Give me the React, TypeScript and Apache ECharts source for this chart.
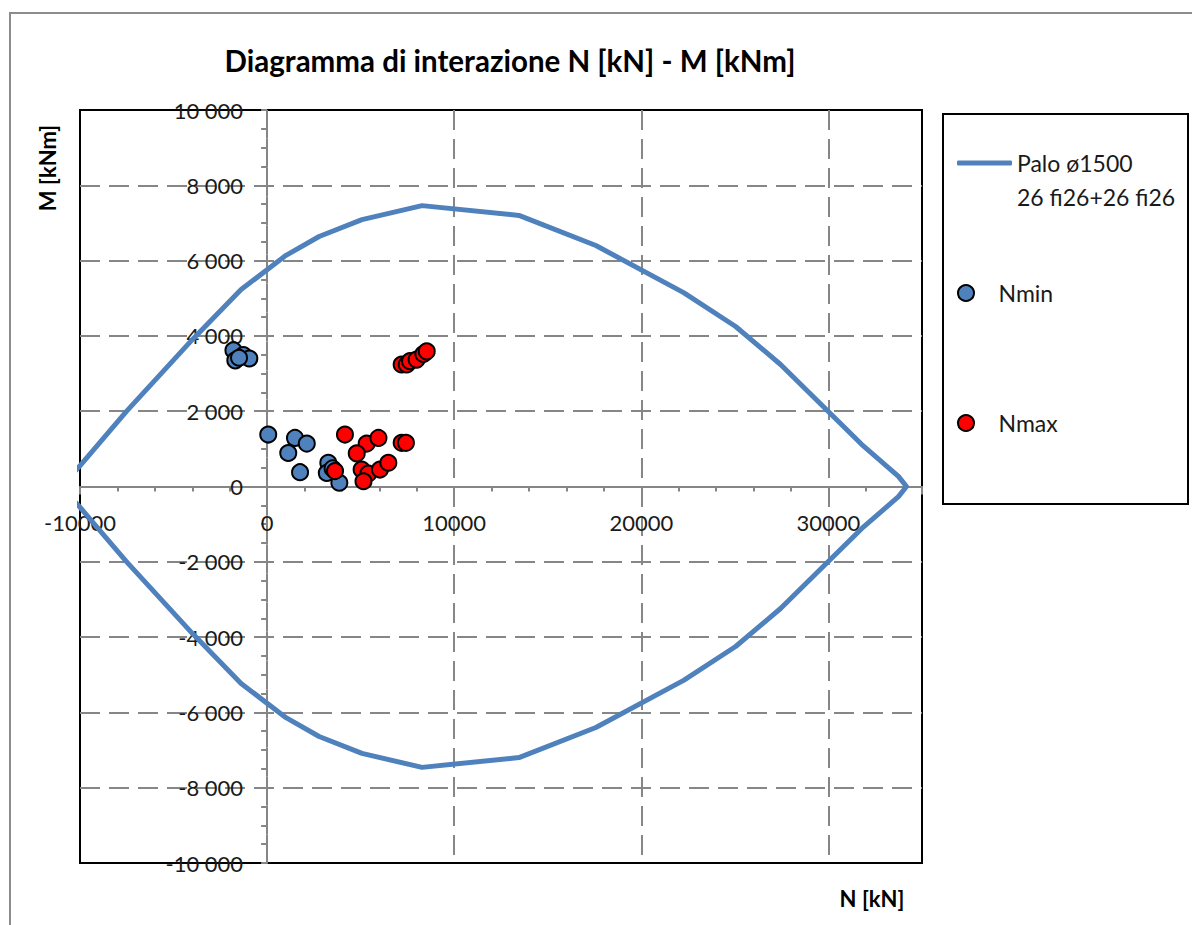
import React, { useEffect, useRef } from "react";
import * as echarts from "echarts";

// Interaction envelope (upper branch; lower branch is its mirror M -> -M)
const envelopeN = [-11000, -10040, -7530, -4000, -1390, 1010, 2780, 5070, 8280, 13460, 17570, 22260, 25040, 27440, 31770, 33740, 34170];
const envelopeMUpper = [0, 530, 1990, 3900, 5230, 6140, 6640, 7090, 7460, 7200, 6400, 5150, 4250, 3240, 1120, 270, 0];

// Nmin load points
const nminN = [-1800, -1700, -1270, -950, -1500, 60, 1490, 2120, 1130, 1760, 3270, 3190, 3860, 3500];
const nminM = [3620, 3350, 3490, 3400, 3420, 1380, 1290, 1140, 890, 380, 630, 360, 100, 480];

// Nmax load points
const nmaxN = [3630, 4160, 5320, 5950, 4790, 5050, 5410, 5150, 6030, 6480, 7190, 7420, 7190, 7460, 7640, 7990, 8350, 8530];
const nmaxM = [410, 1380, 1140, 1290, 880, 450, 345, 140, 450, 630, 1160, 1160, 3240, 3240, 3330, 3370, 3520, 3590];

// Axis ranges
const xMin = -10000;
const xMax = 35000;
const xStep = 10000;
const yMin = -10000;
const yMax = 10000;
const yStep = 2000;

const titleText = "Diagramma di interazione N [kN] - M [kNm]";
const lineName = "Palo ø1500";
const lineName2 = "26 fi26+26 fi26";
const nminName = "Nmin";
const nmaxName = "Nmax";
const xName = "N [kN]";
const yName = "M [kNm]";

const FONT = "Lato, 'DejaVu Sans', sans-serif";
const GRID_GRAY = "#868686";

const GRID_LEFT = 80;
const GRID_TOP = 110;
const GRID_W = 842;
const GRID_H = 753;

function fmtY(v: number): string {
  const a = Math.abs(v).toString().replace(/\B(?=(\d{3})+(?!\d))/g, " ");
  return v < 0 ? "-" + a : a;
}

export default function App() {
  const ref = useRef<HTMLDivElement>(null);
  useEffect(() => {
    const chart = echarts.init(ref.current!, null, { renderer: "svg" });
    const upper = envelopeN.map((n, i) => [n, envelopeMUpper[i]]);
    const lower: number[][] = [];
    for (let i = envelopeN.length - 2; i >= 0; i--) lower.push([envelopeN[i], -envelopeMUpper[i]]);
    const envelope = upper.concat(lower);
    const nmin = nminN.map((n, i) => [n, nminM[i]]);
    const nmax = nmaxN.map((n, i) => [n, nmaxM[i]]);

    // axes cross at (0, 0): shift them from the grid edges to the zero lines
    const xAxisOffset = -GRID_H * (0 - yMin) / (yMax - yMin);
    const yAxisOffset = -GRID_W * (0 - xMin) / (xMax - xMin);

    const tickLine = { color: GRID_GRAY, width: 2 };
    const dashed = { color: GRID_GRAY, width: 2, type: [20, 9] as any };

    chart.setOption({
      animation: false,
      backgroundColor: "#fff",
      title: {
        text: titleText,
        left: 510,
        top: 45,
        padding: 0,
        textAlign: "center",
        textStyle: { fontFamily: FONT, fontSize: 29.5, fontWeight: "bold", color: "#000" },
      },
      grid: {
        left: GRID_LEFT,
        top: GRID_TOP,
        width: GRID_W,
        height: GRID_H,
        show: true,
        borderColor: "#000",
        borderWidth: 2,
        backgroundColor: "transparent",
        containLabel: false,
        outerBoundsMode: "none",
      },
      xAxis: {
        type: "value",
        min: xMin,
        max: xMax,
        interval: xStep,
        position: "bottom",
        offset: xAxisOffset,
        axisLine: { show: true, onZero: false, lineStyle: tickLine },
        axisTick: { show: true, length: 8, lineStyle: tickLine },
        minorTick: { show: true, splitNumber: 5, length: 5, lineStyle: tickLine },
        axisLabel: {
          margin: 25,
          fontSize: 22,
          fontFamily: FONT,
          color: "#1a1a1a",
          showMinLabel: true,
          showMaxLabel: false,
          formatter: (v: number) => String(v),
        },
        splitLine: { show: true, showMinLine: false, showMaxLine: false, lineStyle: dashed },
      },
      yAxis: {
        type: "value",
        min: yMin,
        max: yMax,
        interval: yStep,
        position: "left",
        offset: yAxisOffset,
        axisLine: { show: true, onZero: false, lineStyle: dashed },
        axisTick: { show: true, length: 6, lineStyle: tickLine },
        minorTick: { show: true, splitNumber: 4, length: 6, lineStyle: tickLine },
        axisLabel: {
          margin: 24,
          fontSize: 22,
          fontFamily: FONT,
          color: "#1a1a1a",
          formatter: (v: number) => fmtY(v),
        },
        splitLine: { show: true, showMinLine: false, showMaxLine: false, lineStyle: dashed },
      },
      legend: [
        {
          data: [{ name: lineName, icon: "roundRect" }],
          left: 957,
          top: 149,
          padding: 0,
          itemWidth: 55,
          itemHeight: 5,
          selectedMode: false,
          textStyle: { fontFamily: FONT, fontSize: 23, color: "#1a1a1a", lineHeight: 28 },
        },
        {
          data: [nminName],
          left: 957,
          top: 279,
          padding: 0,
          itemWidth: 55,
          itemHeight: 16,
          selectedMode: false,
          textStyle: { fontFamily: FONT, fontSize: 23, color: "#1a1a1a", lineHeight: 28 },
        },
        {
          data: [nmaxName],
          left: 957,
          top: 409,
          padding: 0,
          itemWidth: 55,
          itemHeight: 16,
          selectedMode: false,
          textStyle: { fontFamily: FONT, fontSize: 23, color: "#1a1a1a", lineHeight: 28 },
        },
      ],
      graphic: [
        {
          type: "rect",
          z: 0,
          silent: true,
          shape: { x: 10, y: 13, width: 1250, height: 1000 },
          style: { fill: "none", stroke: "#8c8c8c", lineWidth: 2 },
        },
        {
          type: "rect",
          z: 0,
          silent: true,
          shape: { x: 943, y: 114, width: 245, height: 390 },
          style: { fill: "#fff", stroke: "#000", lineWidth: 2 },
        },
        {
          type: "text",
          z: 5,
          x: 1017,
          y: 197,
          style: { text: lineName2, font: `23px ${FONT}`, fill: "#1a1a1a", align: "left", verticalAlign: "middle" },
        },
        {
          type: "text",
          z: 5,
          x: 47,
          y: 168,
          rotation: Math.PI / 2,
          style: { text: yName, font: `bold 22px ${FONT}`, fill: "#000", align: "center", verticalAlign: "middle" },
        },
        {
          type: "text",
          z: 5,
          x: 872,
          y: 898,
          style: { text: xName, font: `bold 22px ${FONT}`, fill: "#000", align: "center", verticalAlign: "middle" },
        },
      ],
      series: [
        {
          type: "line",
          name: lineName,
          data: envelope,
          symbol: "none",
          clip: true,
          z: 2,
          lineStyle: { color: "#4F81BD", width: 5, join: "round", cap: "round" },
          itemStyle: { color: "#4F81BD" },
        },
        {
          type: "scatter",
          name: nminName,
          data: nmin,
          symbol: "circle",
          symbolSize: 16,
          z: 3,
          itemStyle: { color: "#4F81BD", borderColor: "#000", borderWidth: 2, opacity: 1 },
        },
        {
          type: "scatter",
          name: nmaxName,
          data: nmax,
          symbol: "circle",
          symbolSize: 16,
          z: 4,
          itemStyle: { color: "#FF0000", borderColor: "#000", borderWidth: 2, opacity: 1 },
        },
      ],
    });
    return () => chart.dispose();
  }, []);
  return (
    <div
      ref={ref}
      style={{ position: "absolute", left: 0, top: 0, width: 1192, height: 925 }}
    />
  );
}
